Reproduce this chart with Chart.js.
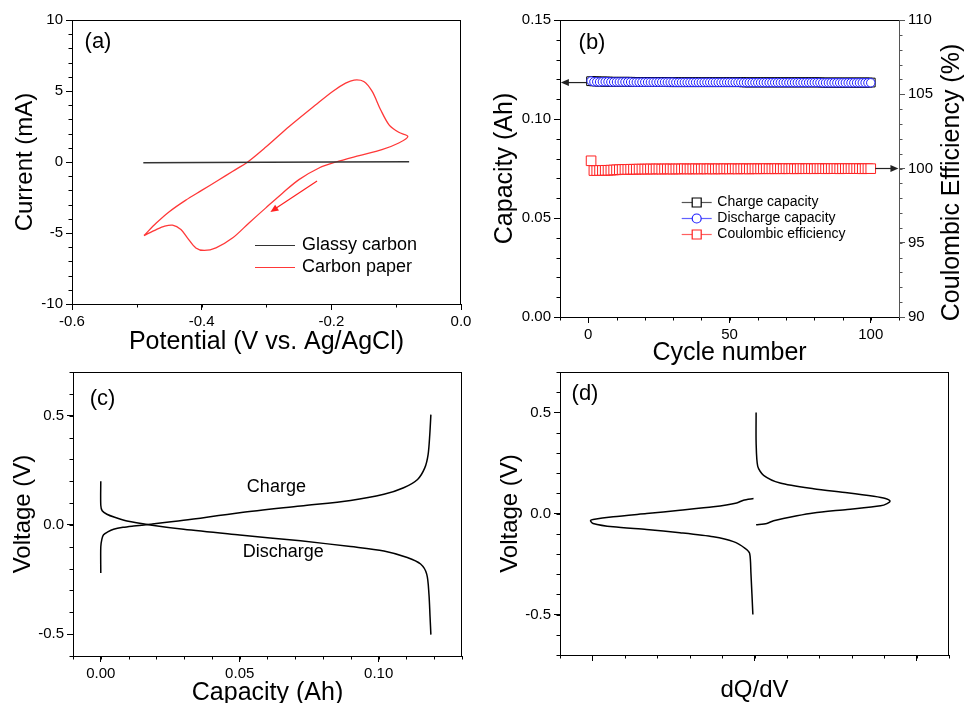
<!DOCTYPE html>
<html>
<head>
<meta charset="utf-8">
<script src="https://cdn.jsdelivr.net/npm/chart.js@4.4.0/dist/chart.umd.min.js"></script>
<style>
html, body { margin:0; padding:0; background:#fff; width:966px; height:703px; overflow:hidden; position:relative; }
canvas { position:absolute; }
</style>
</head>
<body>
<canvas id="chartA" width="480" height="360" style="left:0;top:0"></canvas>
<canvas id="chartB" width="486" height="375" style="left:480px;top:0"></canvas>
<canvas id="chartC" width="480" height="350" style="left:0;top:360px"></canvas>
<canvas id="chartD" width="486" height="350" style="left:480px;top:360px"></canvas>
<script>
// (a) cyclic voltammetry
var gcPotential = [-0.49, -0.40, -0.30, -0.20, -0.08]
var gcCurrent = [-0.05, -0.04, -0.02, 0.00, 0.02]
var cvPotential = [-0.489,-0.470,-0.450,-0.425,-0.400,-0.375,-0.352,-0.329,-0.301,-0.265,-0.224,-0.198,-0.178,-0.165,-0.150,-0.137,-0.124,-0.111,-0.096,-0.082,
  -0.096,-0.122,-0.157,-0.193,-0.219,-0.250,-0.275,-0.301,-0.327,-0.352,-0.378,-0.396,-0.409,-0.422,-0.432,-0.445,-0.457,-0.470,-0.489]
var cvCurrent = [-5.18,-4.30,-3.50,-2.70,-2.00,-1.30,-0.65,0.00,1.05,2.50,4.03,4.97,5.55,5.77,5.67,4.97,3.68,2.62,2.09,1.80,
  1.34,0.87,0.45,0.00,-0.42,-1.24,-2.18,-3.23,-4.29,-5.34,-6.05,-6.23,-6.05,-5.34,-4.76,-4.45,-4.52,-4.76,-5.18]

// (b) cycling
var cycles = [1,2,3,4,5,6,7,8,9,10,11,12,13,14,15,16,17,18,19,20,21,22,23,24,25,26,27,28,29,30,
  31,32,33,34,35,36,37,38,39,40,41,42,43,44,45,46,47,48,49,50,51,52,53,54,55,56,57,58,59,60,
  61,62,63,64,65,66,67,68,69,70,71,72,73,74,75,76,77,78,79,80,81,82,83,84,85,86,87,88,89,90,
  91,92,93,94,95,96,97,98,99,100]
var chargeCap = [0.1191,0.1190,0.1190,0.1189,0.1189,0.1189,0.1189,0.1188,0.1188,0.1188,
  0.1188,0.1188,0.1188,0.1188,0.1188,0.1187,0.1187,0.1187,0.1187,0.1187,
  0.1187,0.1187,0.1187,0.1187,0.1187,0.1187,0.1187,0.1187,0.1186,0.1186,
  0.1186,0.1186,0.1186,0.1186,0.1186,0.1186,0.1186,0.1186,0.1186,0.1186,
  0.1186,0.1186,0.1186,0.1186,0.1186,0.1186,0.1186,0.1186,0.1186,0.1186,
  0.1186,0.1186,0.1186,0.1186,0.1185,0.1185,0.1185,0.1185,0.1185,0.1185,
  0.1185,0.1185,0.1185,0.1185,0.1185,0.1185,0.1185,0.1185,0.1185,0.1185,
  0.1185,0.1185,0.1185,0.1185,0.1185,0.1185,0.1185,0.1185,0.1185,0.1185,
  0.1185,0.1185,0.1184,0.1184,0.1184,0.1184,0.1184,0.1184,0.1184,0.1184,
  0.1184,0.1184,0.1184,0.1184,0.1184,0.1184,0.1184,0.1184,0.1184,0.1184]
var dischargeCap = [0.1192,0.1188,0.1188,0.1187,0.1188,0.1188,0.1188,0.1187,0.1187,0.1187,
  0.1187,0.1187,0.1187,0.1187,0.1187,0.1186,0.1186,0.1186,0.1186,0.1186,
  0.1186,0.1186,0.1186,0.1186,0.1186,0.1186,0.1186,0.1186,0.1186,0.1186,
  0.1185,0.1185,0.1185,0.1185,0.1185,0.1185,0.1185,0.1185,0.1185,0.1185,
  0.1185,0.1185,0.1185,0.1185,0.1185,0.1185,0.1185,0.1185,0.1185,0.1185,
  0.1185,0.1185,0.1185,0.1185,0.1184,0.1184,0.1184,0.1184,0.1184,0.1184,
  0.1184,0.1184,0.1184,0.1184,0.1184,0.1184,0.1184,0.1184,0.1184,0.1184,
  0.1184,0.1184,0.1184,0.1184,0.1184,0.1184,0.1184,0.1184,0.1184,0.1184,
  0.1184,0.1184,0.1183,0.1183,0.1183,0.1183,0.1183,0.1183,0.1183,0.1183,
  0.1183,0.1183,0.1183,0.1183,0.1183,0.1183,0.1183,0.1183,0.1183,0.1183]
var coulombicEff = [100.52,99.86,99.86,99.87,99.87,99.88,99.88,99.89,99.90,99.91,
  99.92,99.93,99.94,99.94,99.95,99.95,99.95,99.96,99.96,99.96,
  99.96,99.97,99.96,99.97,99.97,99.96,99.97,99.97,99.97,99.96,
  99.97,99.97,99.97,99.98,99.97,99.97,99.97,99.98,99.97,99.97,
  99.98,99.97,99.98,99.97,99.97,99.98,99.97,99.98,99.98,99.97,
  99.98,99.98,99.97,99.98,99.98,99.98,99.97,99.98,99.98,99.98,
  99.98,99.98,99.99,99.98,99.98,99.98,99.99,99.98,99.98,99.99,
  99.98,99.99,99.98,99.98,99.99,99.99,99.98,99.99,99.99,99.98,
  99.99,99.99,99.99,99.98,99.99,99.99,99.99,99.99,99.98,99.99,
  99.99,99.99,99.99,99.99,99.99,99.99,99.98,99.99,99.99,99.99]

// (c) charge / discharge curves
var chargeQ = [0, 0, 0.0004, 0.0010, 0.0025, 0.0046, 0.0080, 0.0118, 0.0178, 0.0298, 0.0500, 0.0719, 0.0899, 0.1019, 0.1090, 0.1140, 0.1166, 0.1178, 0.1184, 0.1188]
var chargeV = [-0.22, -0.10, -0.065, -0.045, -0.032, -0.020, -0.011, -0.005, 0.003, 0.021, 0.056, 0.087, 0.112, 0.140, 0.170, 0.208, 0.261, 0.322, 0.413, 0.505]
var dischargeQ = [0, 0, 0.0005, 0.0022, 0.0050, 0.0094, 0.0178, 0.0298, 0.0500, 0.0719, 0.0899, 0.1019, 0.1103, 0.1151, 0.1173, 0.1181, 0.1185, 0.1188]
var dischargeV = [0.20, 0.09, 0.065, 0.049, 0.035, 0.018, 0.000, -0.020, -0.046, -0.073, -0.099, -0.119, -0.149, -0.179, -0.225, -0.316, -0.420, -0.502]

// (d) dQ/dV
var dqCharge = [0.05, 0.05, 0.10, 0.28, 0.79, 1.82, 2.86, 3.68, 4.04, 4.18, 4.09, 3.89, 2.86, 1.82, 1.31, 0.59, 0.38, 0.05]
var vCharge = [0.50, 0.35, 0.233, 0.189, 0.151, 0.123, 0.103, 0.085, 0.074, 0.062, 0.049, 0.038, 0.020, 0.003, -0.011, -0.036, -0.049, -0.056]
var dqDischarge = [-0.03, -0.34, -0.55, -1.27, -2.30, -3.33, -4.36, -4.98, -5.06, -4.98, -4.36, -3.33, -2.30, -1.27, -0.65, -0.29, -0.15, -0.11, -0.05]
var vDischarge = [0.074, 0.066, 0.052, 0.033, 0.016, 0.000, -0.016, -0.030, -0.036, -0.049, -0.066, -0.079, -0.095, -0.115, -0.139, -0.172, -0.197, -0.295, -0.50]

const FONT = '"Liberation Sans", Arial, sans-serif'
Chart.defaults.font.family = FONT
Chart.defaults.color = '#000'

function pts(xs, ys){
  return xs.map((x, i) => ({x: x, y: ys[i]}))
}

function fmt(d){
  return v => (Math.abs(v) < 1e-9 ? 0 : v).toFixed(d)
}

function axis(pos, min, max, step, size, labelFn, title){
  var sc = {
    type: 'linear', position: pos, min: min, max: max,
    grid: {drawOnChartArea: false, drawTicks: true, tickLength: 6, color: '#000', tickColor: '#000'},
    border: {display: true, color: '#000', width: 1},
    ticks: {stepSize: step, includeBounds: false, font: {size: 15}, color: '#000', padding: 3,
      callback: labelFn, maxRotation: 0, autoSkip: false},
    afterFit: function(s){ if (s.isHorizontal()) s.height = size; else s.width = size }
  }
  if (title) sc.title = title
  return sc
}

function ttl(text, size, padTop, padBottom){
  return {display: true, text: text, color: '#000', font: {size: size}, padding: {top: padTop, bottom: padBottom}}
}

function arrowHead(ctx, x1, y1, x2, y2, color){
  var ang = Math.atan2(y2 - y1, x2 - x1), L = 8, W = 3.5
  ctx.strokeStyle = color; ctx.fillStyle = color; ctx.lineWidth = 1.2
  ctx.beginPath(); ctx.moveTo(x1, y1); ctx.lineTo(x2 - Math.cos(ang) * L * 0.6, y2 - Math.sin(ang) * L * 0.6); ctx.stroke()
  ctx.beginPath()
  ctx.moveTo(x2, y2)
  ctx.lineTo(x2 - L * Math.cos(ang) + W * Math.sin(ang), y2 - L * Math.sin(ang) - W * Math.cos(ang))
  ctx.lineTo(x2 - L * Math.cos(ang) - W * Math.sin(ang), y2 - L * Math.sin(ang) + W * Math.cos(ang))
  ctx.closePath(); ctx.fill()
}

// frame, minor ticks, labels, arrows, legends
const extras = {
  id: 'extras',
  afterDraw(chart, args, o){
    var ctx = chart.ctx, a = chart.chartArea
    ctx.save()
    ctx.strokeStyle = '#000'; ctx.lineWidth = 1
    var t = Math.round(a.top) + 0.5, r = Math.round(a.right) - 0.5
    ctx.beginPath(); ctx.moveTo(a.left, t); ctx.lineTo(a.right, t)
    if (o.rightFrame !== false){ ctx.moveTo(r, a.top); ctx.lineTo(r, a.bottom) }
    ctx.stroke()

    // minor ticks
    for (var id in (o.minor || {})){
      var s = chart.scales[id], step = o.minor[id]
      ctx.strokeStyle = s.options.border.color
      var n0 = Math.ceil(s.min / step - 1e-6), n1 = Math.floor(s.max / step + 1e-6)
      for (var n = n0; n <= n1; n++){
        var p = Math.round(s.getPixelForValue(n * step)) + 0.5
        ctx.beginPath()
        if (s.position === 'bottom'){ ctx.moveTo(p, s.top); ctx.lineTo(p, s.top + 3.5) }
        else if (s.position === 'left'){ ctx.moveTo(s.right, p); ctx.lineTo(s.right - 3.5, p) }
        else { ctx.moveTo(s.left, p); ctx.lineTo(s.left + 3.5, p) }
        ctx.stroke()
      }
    }

    ctx.fillStyle = '#000'
    ctx.textBaseline = 'middle'
    if (o.label){
      ctx.font = '22px ' + FONT; ctx.textAlign = 'center'
      ctx.fillText(o.label.text, a.left + o.label.dx, a.top + o.label.dy)
    }
    ;(o.texts || []).forEach(function(tx){
      ctx.font = tx.size + 'px ' + FONT; ctx.textAlign = 'center'; ctx.fillStyle = '#000'
      ctx.fillText(tx.text, chart.scales.x.getPixelForValue(tx.x), chart.scales.y.getPixelForValue(tx.y))
    })
    ;(o.arrows || []).forEach(function(ar){
      var xs = chart.scales.x, ys = chart.scales[ar.yAxis || 'y']
      arrowHead(ctx, xs.getPixelForValue(ar.x1), ys.getPixelForValue(ar.y1), xs.getPixelForValue(ar.x2), ys.getPixelForValue(ar.y2), ar.color)
    })
    if (o.legend){
      var lg = o.legend
      ctx.font = lg.size + 'px ' + FONT; ctx.textAlign = 'left'
      lg.items.forEach(function(it, i){
        var y = Math.round(a.top + lg.dy + i * lg.gap) + 0.5
        var x0 = a.left + lg.x0, x1 = a.left + lg.x1, cx = (x0 + x1) / 2
        ctx.strokeStyle = it.line; ctx.lineWidth = 1.2
        ctx.beginPath(); ctx.moveTo(x0, y); ctx.lineTo(x1, y); ctx.stroke()
        if (it.marker){
          ctx.fillStyle = '#fff'; ctx.strokeStyle = it.markerColor; ctx.lineWidth = 1.2
          ctx.beginPath()
          if (it.marker === 'circle') ctx.arc(cx, y, 4.5, 0, Math.PI * 2)
          else ctx.rect(cx - 4.5, y - 4.5, 9, 9)
          ctx.fill(); ctx.stroke()
        }
        ctx.fillStyle = '#000'
        ctx.fillText(it.text, a.left + lg.tx, y)
      })
    }
    if (o.sideTitle){
      ctx.save()
      ctx.translate(a.right + o.sideTitle.dx, (a.top + a.bottom) / 2 + o.sideTitle.dy)
      ctx.rotate(-Math.PI / 2)
      ctx.font = o.sideTitle.size + 'px ' + FONT; ctx.textAlign = 'center'; ctx.fillStyle = '#000'
      ctx.fillText(o.sideTitle.text, 0, 0)
      ctx.restore()
    }
    ctx.restore()
  }
}

function baseOptions(padding, scales, extrasOpts){
  return {
    responsive: false, animation: false, devicePixelRatio: 1,
    layout: {padding: padding},
    plugins: {legend: {display: false}, tooltip: {enabled: false}, extras: extrasOpts},
    scales: scales
  }
}

// (a)
new Chart(document.getElementById('chartA'), {
  type: 'scatter',
  data: {datasets: [
    {label: 'Glassy carbon', data: pts(gcPotential, gcCurrent), showLine: true, borderColor: '#333', borderWidth: 1.5, pointRadius: 0, tension: 0},
    {label: 'Carbon paper', data: pts(cvPotential, cvCurrent), showLine: true, borderColor: '#ff3838', borderWidth: 1.3, pointRadius: 0, tension: 0.3}
  ]},
  options: baseOptions({left: 0, top: 20, right: 19, bottom: 0}, {
    x: axis('bottom', -0.6, 0, 0.2, 56, fmt(1), ttl('Potential (V vs. Ag/AgCl)', 25, 0, 3)),
    y: axis('left', -10, 10, 5, 72, fmt(0), ttl('Current (mA)', 24, 10.6, 0))
  }, {
    minor: {x: 0.1, y: 1},
    label: {text: '(a)', dx: 26, dy: 22},
    arrows: [{x1: -0.222, y1: -1.34, x2: -0.294, y2: -3.52, color: '#ff2020'}],
    legend: {size: 18, dy: 225, gap: 22, x0: 183, x1: 223, tx: 230, items: [
      {text: 'Glassy carbon', line: '#333'},
      {text: 'Carbon paper', line: '#ff3838'}
    ]}
  }),
  plugins: [extras]
})

// (b)
var yRight = axis('right', 90, 110, 5, 67, fmt(0))
yRight.border.color = '#555'; yRight.grid.tickColor = '#555'; yRight.grid.color = '#555'
new Chart(document.getElementById('chartB'), {
  type: 'scatter',
  data: {datasets: [
    {label: 'Discharge capacity', data: pts(cycles, dischargeCap), yAxisID: 'y', order: 0, showLine: true,
      borderColor: '#2020ff', borderWidth: 1, pointStyle: 'circle', pointRadius: 4.2, pointBorderColor: '#1a1aff', pointBackgroundColor: '#fff', pointBorderWidth: 1},
    {label: 'Charge capacity', data: pts(cycles, chargeCap), yAxisID: 'y', order: 1, showLine: true,
      borderColor: '#000', borderWidth: 1, pointStyle: 'rect', pointRadius: 6.2, pointBorderColor: '#000', pointBackgroundColor: '#fff', pointBorderWidth: 1},
    {label: 'Coulombic efficiency', data: pts(cycles, coulombicEff), yAxisID: 'y2', order: 2, showLine: true,
      borderColor: '#ff2020', borderWidth: 1, pointStyle: 'rect', pointRadius: 6.8, pointBorderColor: '#ff2020', pointBackgroundColor: '#fff', pointBorderWidth: 1}
  ]},
  options: baseOptions({left: 0, top: 20, right: 0, bottom: 0}, {
    x: axis('bottom', -10, 110, 50, 58, fmt(0), ttl('Cycle number', 25, 0, 7)),
    y: axis('left', 0, 0.15, 0.05, 80, fmt(2), ttl('Capacity (Ah)', 25, 10, 0)),
    y2: yRight
  }, {
    rightFrame: false,
    minor: {x: 10, y: 0.01, y2: 1},
    label: {text: '(b)', dx: 32, dy: 23},
    arrows: [
      {x1: -0.4, y1: 0.1184, x2: -9.7, y2: 0.1184, color: '#222'},
      {x1: 101.6, y1: 100, x2: 109.8, y2: 100, yAxis: 'y2', color: '#222'}
    ],
    legend: {size: 14, dy: 182.3, gap: 16, x0: 121.7, x1: 151.7, tx: 157.3, items: [
      {text: 'Charge capacity', line: '#555', marker: 'rect', markerColor: '#000'},
      {text: 'Discharge capacity', line: '#6060ff', marker: 'circle', markerColor: '#2020ff'},
      {text: 'Coulombic efficiency', line: '#ff6060', marker: 'rect', markerColor: '#ff2020'}
    ]},
    sideTitle: {text: 'Coulombic Efficiency (%)', size: 25, dx: 53, dy: 14}
  }),
  plugins: [extras]
})

// (c)
new Chart(document.getElementById('chartC'), {
  type: 'scatter',
  data: {datasets: [
    {label: 'Charge', data: pts(chargeQ, chargeV), showLine: true, borderColor: '#000', borderWidth: 1.5, pointRadius: 0, tension: 0.3},
    {label: 'Discharge', data: pts(dischargeQ, dischargeV), showLine: true, borderColor: '#000', borderWidth: 1.5, pointRadius: 0, tension: 0.3}
  ]},
  options: baseOptions({left: 0, top: 10, right: 18, bottom: 0}, {
    x: axis('bottom', -0.01, 0.13, 0.05, 54, fmt(2), ttl('Capacity (Ah)', 25, 0, 2)),
    y: axis('left', -0.6, 0.7, 0.5, 73, fmt(1), ttl('Voltage (V)', 24, 8.6, 0))
  }, {
    minor: {x: 0.01, y: 0.1},
    label: {text: '(c)', dx: 29.5, dy: 27},
    texts: [
      {text: 'Charge', x: 0.0632, y: 0.173, size: 18},
      {text: 'Discharge', x: 0.0657, y: -0.123, size: 18}
    ]
  }),
  plugins: [extras]
})

// (d)
new Chart(document.getElementById('chartD'), {
  type: 'scatter',
  data: {datasets: [
    {label: 'Charge', data: pts(dqCharge, vCharge), showLine: true, borderColor: '#000', borderWidth: 1.5, pointRadius: 0, tension: 0.25},
    {label: 'Discharge', data: pts(dqDischarge, vDischarge), showLine: true, borderColor: '#000', borderWidth: 1.5, pointRadius: 0, tension: 0.25}
  ]},
  options: baseOptions({left: 0, top: 10, right: 17, bottom: 0}, {
    x: axis('bottom', -6, 6, 5, 55, function(){ return '' }, ttl('dQ/dV', 24, 0, 5.6)),
    y: axis('left', -0.7, 0.7, 0.5, 80, fmt(1), ttl('Voltage (V)', 24, 15.6, 0))
  }, {
    minor: {x: 1, y: 0.1},
    label: {text: '(d)', dx: 25, dy: 22}
  }),
  plugins: [extras]
})
</script>
</body>
</html>
